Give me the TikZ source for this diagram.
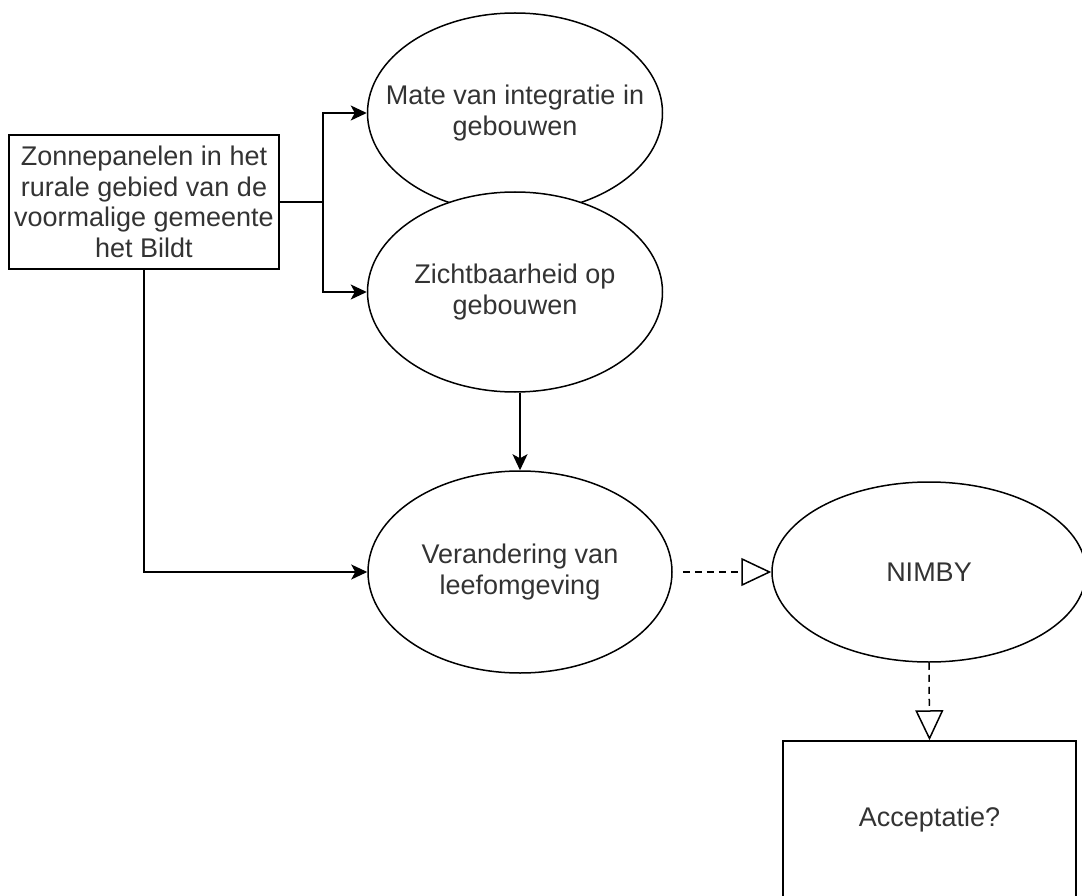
\documentclass[tikz,border=0pt]{standalone}
\usepackage{fontspec}
\setmainfont{Liberation Sans}
\usetikzlibrary{arrows.meta,shapes.geometric}
\definecolor{txtgrey}{HTML}{333333}

\tikzset{
	blok/.style={draw, line width=1.5pt, inner sep=0pt, fill=white},
	bubbel/.style={draw, ellipse, line width=1.5pt, inner sep=0pt, fill=white},
	tekst/.style={align=center, text=txtgrey, font=\fontsize{27}{30.5}\selectfont},
	pijl/.style={line width=1.5pt, -{Stealth[length=16pt,width=15pt,inset=4pt]}},
	stippel/.style={line width=1.5pt, dash pattern=on 7pt off 5pt, -{Triangle[open,length=30pt,width=28pt]}},
}

\begin{document}
\begin{tikzpicture}[x=1pt,y=1pt]
				\useasboundingbox (0,0) rectangle (1082,-896);
				\node [blok, tekst, minimum width=270pt, minimum height=134pt] (zon) at (144,-202) {Zonnepanelen in het\\rurale gebied van de\\voormalige gemeente\\het Bildt};
				\node [bubbel, minimum width=295pt, minimum height=200pt] (mate) at (515,-113) {};
				\node [tekst] (matetxt) at (mate) {Mate van integratie in\\gebouwen};
				\node [bubbel, minimum width=295pt, minimum height=200pt] (zicht) at (515,-292) {};
				\node [tekst] (zichttxt) at (zicht) {Zichtbaarheid op\\gebouwen};
				\node [bubbel, minimum width=304pt, minimum height=202pt] (leef) at (520,-572) {};
				\node [tekst] (leeftxt) at (leef) {Verandering van\\leefomgeving};
				\node [bubbel, minimum width=314pt, minimum height=180pt] (nimby) at (929,-572) {};
				\node [tekst] (nimbytxt) at (nimby) {NIMBY};
				\node [blok, tekst, minimum width=293pt, minimum height=158pt] (acc) at (929.5,-820) {Acceptatie?};
				\coordinate (tak) at (323,-202);
				\draw [line width=1.5pt] (zon.east) -- (tak);
				\draw [pijl] (tak) |- (mate.west);
				\draw [pijl] (tak) |- (zicht.west);
				\draw [pijl] (leef.north |- zicht.south) -- (leef.north);
				\draw [pijl] (zon.south) |- (leef.west);
				\draw [stippel] ([xshift=10pt]leef.east) -- (nimby.west);
				\draw [stippel] (nimby.south) -- (acc.north);
\end{tikzpicture}
\end{document}
